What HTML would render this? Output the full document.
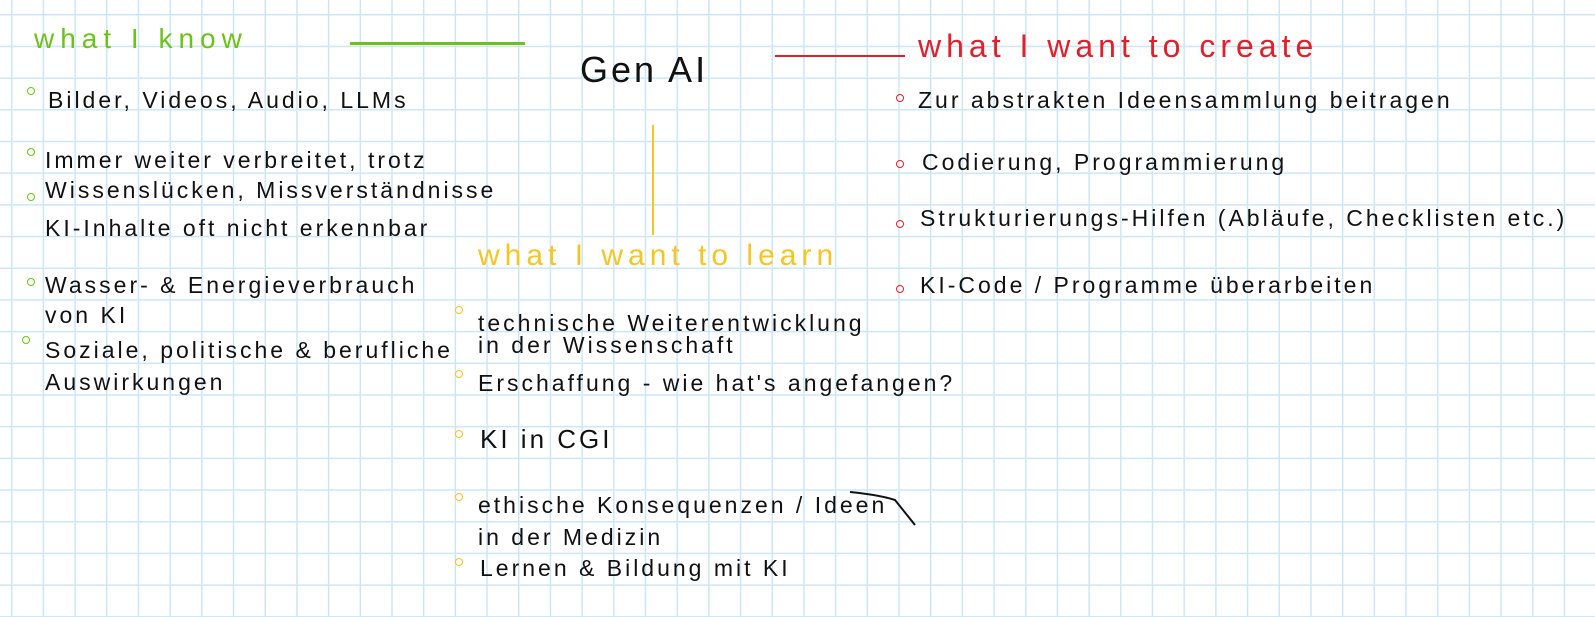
<!DOCTYPE html>
<html><head><meta charset="utf-8"><style>
html,body{margin:0;padding:0}
body{width:1595px;height:617px;position:relative;overflow:hidden;background-color:#fff;
background-image:linear-gradient(to right,#cde6f6 1.5px,transparent 1.5px),linear-gradient(to bottom,#cde6f6 1.5px,transparent 1.5px);
background-size:31.7px 31.7px;background-position:11px 14px;font-family:"Liberation Sans",sans-serif;}
.t{position:absolute;white-space:nowrap;font-size:23px;color:#111;letter-spacing:3px;line-height:30px}
.g{color:#6cc21a}.r{color:#e0202a}.y{color:#f3c623}
.b{position:absolute;width:6px;height:6px;border:1.5px solid;border-radius:50%}
.l{position:absolute}
</style></head><body>
<div class="t g" style="left:34px;top:22px;font-size:28px;line-height:34px;letter-spacing:6px">what I know</div>
<div class="l" style="left:350px;top:42px;width:175px;height:3px;background:#6cc21a"></div>
<div class="t" style="left:580px;top:50px;font-size:36px;line-height:40px">Gen AI</div>
<div class="l" style="left:775px;top:55px;width:130px;height:2px;background:#e0202a"></div>
<div class="t r" style="left:918px;top:28px;font-size:32px;line-height:36px;letter-spacing:5px">what I want to create</div>
<div class="l" style="left:652px;top:125px;width:2px;height:110px;background:#f3c623"></div>
<div class="t y" style="left:478px;top:238px;font-size:30px;line-height:36px;letter-spacing:5px">what I want to learn</div>

<div class="b" style="left:27px;top:87px;border-color:#6cc21a"></div>
<div class="t" style="left:48px;top:85px">Bilder, Videos, Audio, LLMs</div>
<div class="b" style="left:27px;top:148px;border-color:#6cc21a"></div>
<div class="t" style="left:45px;top:145px">Immer weiter verbreitet, trotz</div>
<div class="t" style="left:45px;top:175px">Wissenslücken, Missverständnisse</div>
<div class="b" style="left:27px;top:193px;border-color:#6cc21a"></div>
<div class="t" style="left:45px;top:213px">KI-Inhalte oft nicht erkennbar</div>
<div class="b" style="left:27px;top:278px;border-color:#6cc21a"></div>
<div class="t" style="left:45px;top:270px">Wasser- &amp; Energieverbrauch</div>
<div class="t" style="left:45px;top:300px">von KI</div>
<div class="b" style="left:22px;top:336px;border-color:#6cc21a"></div>
<div class="t" style="left:45px;top:335px">Soziale, politische &amp; berufliche</div>
<div class="t" style="left:45px;top:367px">Auswirkungen</div>

<div class="b" style="left:455px;top:306px;border-color:#f3c623"></div>
<div class="t" style="left:478px;top:308px">technische Weiterentwicklung</div>
<div class="t" style="left:478px;top:330px">in der Wissenschaft</div>
<div class="b" style="left:455px;top:370px;border-color:#f3c623"></div>
<div class="t" style="left:478px;top:368px">Erschaffung - wie hat's angefangen?</div>
<div class="b" style="left:455px;top:430px;border-color:#f3c623"></div>
<div class="t" style="left:480px;top:424px;font-size:26px">KI in CGI</div>
<div class="b" style="left:455px;top:493px;border-color:#f3c623"></div>
<div class="t" style="left:478px;top:490px">ethische Konsequenzen / Ideen</div>
<div class="t" style="left:478px;top:522px">in der Medizin</div>
<svg class="l" style="left:840px;top:480px" width="80" height="60"><path d="M10 12 Q40 15 55 20 L75 45" stroke="#111" stroke-width="2" fill="none"/></svg>
<div class="b" style="left:455px;top:558px;border-color:#f3c623"></div>
<div class="t" style="left:480px;top:553px">Lernen &amp; Bildung mit KI</div>

<div class="b" style="left:896px;top:94px;border-color:#e0202a"></div>
<div class="t" style="left:918px;top:85px">Zur abstrakten Ideensammlung beitragen</div>
<div class="b" style="left:896px;top:160px;border-color:#e0202a"></div>
<div class="t" style="left:922px;top:147px">Codierung, Programmierung</div>
<div class="b" style="left:896px;top:220px;border-color:#e0202a"></div>
<div class="t" style="left:920px;top:203px">Strukturierungs-Hilfen (Abläufe, Checklisten etc.)</div>
<div class="b" style="left:896px;top:285px;border-color:#e0202a"></div>
<div class="t" style="left:920px;top:270px">KI-Code / Programme überarbeiten</div>
</body></html>
